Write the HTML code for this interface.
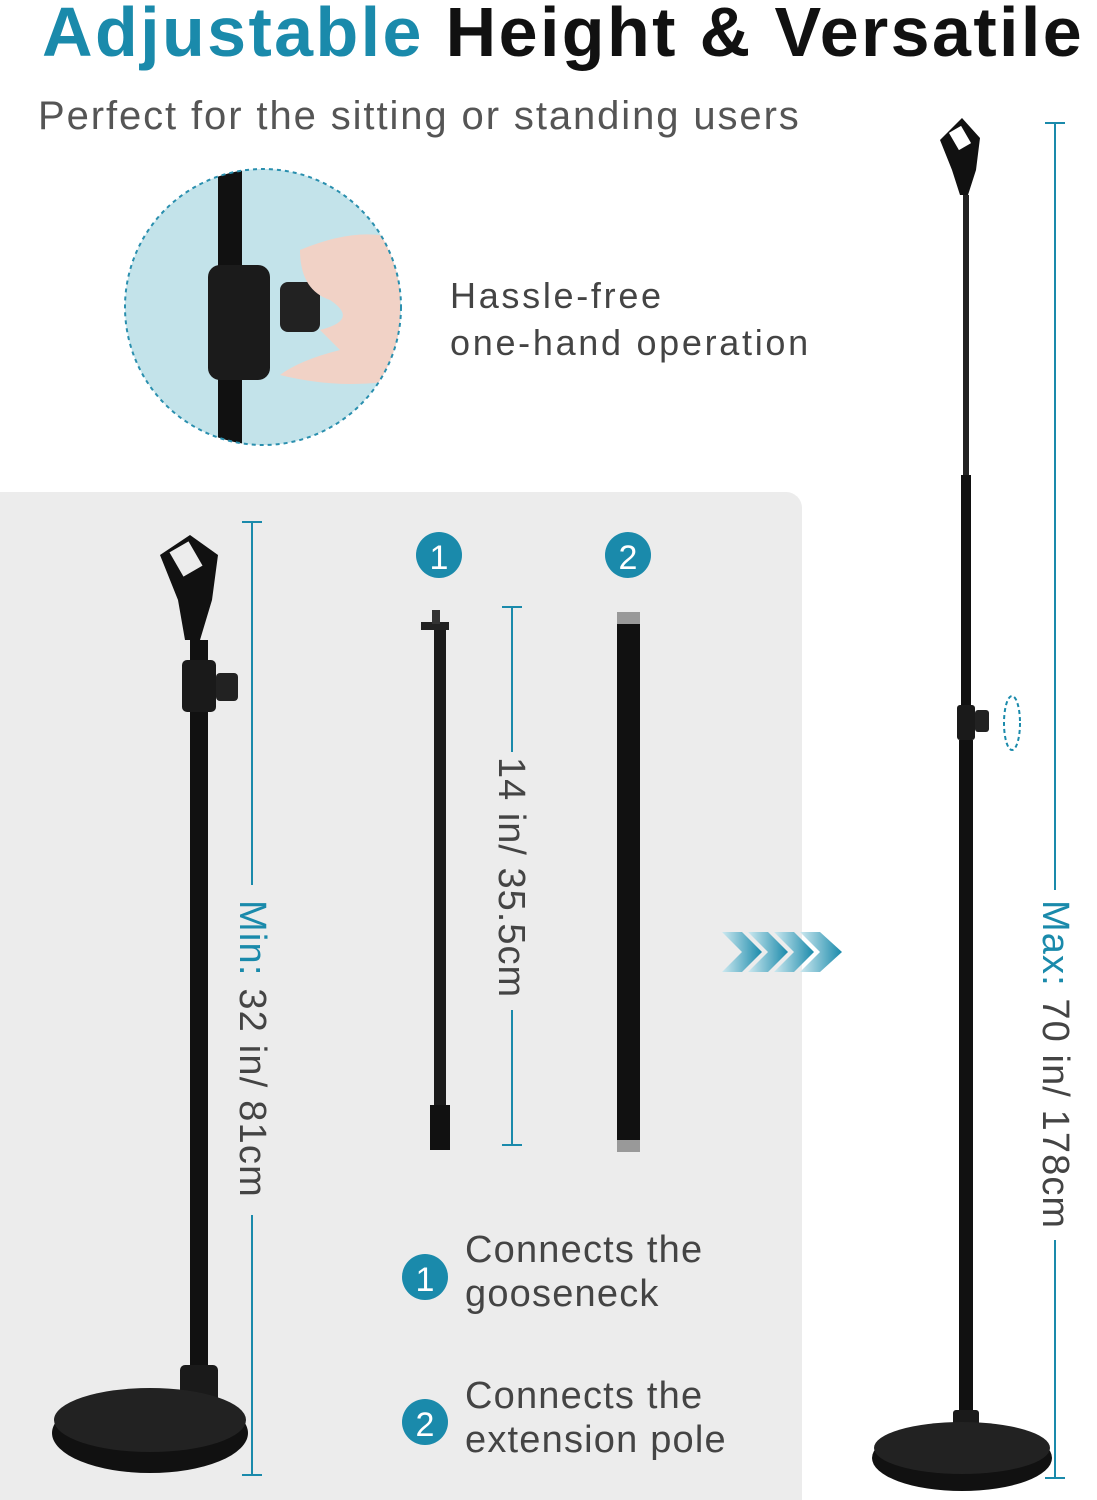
<!DOCTYPE html>
<html><head><meta charset="utf-8"><style>
body{margin:0;width:1097px;height:1500px;background:#fff;position:relative;overflow:hidden;font-family:"Liberation Sans",sans-serif}
.t{position:absolute;white-space:nowrap}
</style></head><body>
<div class="t" style="left:42px;top:-8px;font-size:70px;font-weight:bold;letter-spacing:2.4px;color:#111"><span style="color:#1a8aab">Adjustable</span> Height &amp; Versatile</div>
<div class="t" style="left:38px;top:94px;font-size:40px;color:#555;letter-spacing:1.9px">Perfect for the sitting or standing users</div>
<div class="t" style="left:450px;top:272px;font-size:36px;color:#444;line-height:47px;letter-spacing:2.7px">Hassle-free<br>one-hand operation</div>
<div style="position:absolute;left:0;top:492px;width:802px;height:1008px;background:#ececec;border-radius:0 16px 0 0"></div>
<svg width="1097" height="1500" style="position:absolute;left:0;top:0">
<defs><clipPath id="c"><circle cx="263" cy="307" r="138"/></clipPath>
<linearGradient id="g" x1="0" x2="1"><stop offset="0" stop-color="#cde9f0"/><stop offset="1" stop-color="#1a8aab"/></linearGradient></defs>
<circle cx="263" cy="307" r="138" fill="#c3e3ea"/>
<g clip-path="url(#c)">
<rect x="218" y="160" width="24" height="300" fill="#111"/>
<rect x="208" y="265" width="62" height="115" rx="12" fill="#1b1b1b"/>
<rect x="280" y="282" width="40" height="50" rx="8" fill="#222"/>
<path d="M300 250 Q360 225 400 240 L400 380 Q340 390 280 375 Q300 360 340 350 L320 330 Q360 320 330 300 Q300 290 300 250Z" fill="#f1d2c6"/>
</g>
<circle cx="263" cy="307" r="138" fill="none" stroke="#2a8fae" stroke-width="2" stroke-dasharray="4 4"/>
<rect x="190" y="640" width="18" height="740" fill="#111"/>
<rect x="182" y="660" width="34" height="52" rx="5" fill="#1a1a1a"/>
<rect x="216" y="673" width="22" height="28" rx="4" fill="#222"/>
<path d="M160 555 L190 535 L218 555 L212 600 L200 640 L185 640 L178 600Z" fill="#111"/>
<rect x="175" y="545" width="22" height="28" fill="#ececec" transform="rotate(-30 186 559)"/>
<rect x="180" y="1365" width="38" height="40" rx="5" fill="#1a1a1a"/>
<ellipse cx="150" cy="1433" rx="98" ry="40" fill="#111"/>
<ellipse cx="150" cy="1420" rx="96" ry="32" fill="#222"/>
<g stroke="#1a8aab" stroke-width="2"><line x1="252" y1="522" x2="252" y2="885"/><line x1="252" y1="1215" x2="252" y2="1475"/><line x1="242" y1="522" x2="262" y2="522"/><line x1="242" y1="1475" x2="262" y2="1475"/>
<line x1="512" y1="607" x2="512" y2="752"/><line x1="512" y1="1010" x2="512" y2="1145"/><line x1="502" y1="607" x2="522" y2="607"/><line x1="502" y1="1145" x2="522" y2="1145"/>
<line x1="1055" y1="123" x2="1055" y2="890"/><line x1="1055" y1="1240" x2="1055" y2="1478"/><line x1="1045" y1="123" x2="1065" y2="123"/><line x1="1045" y1="1478" x2="1065" y2="1478"/></g>
<text transform="translate(240,900) rotate(90)" font-size="38" fill="#444" letter-spacing="1.2"><tspan fill="#1a8aab">Min:</tspan> 32 in/ 81cm</text>
<text transform="translate(499,757) rotate(90)" font-size="38" fill="#444" letter-spacing="1">14 in/ 35.5cm</text>
<text transform="translate(1043,900) rotate(90)" font-size="38" fill="#444" letter-spacing="1.1"><tspan fill="#1a8aab">Max:</tspan> 70 in/ 178cm</text>
<rect x="421" y="622" width="28" height="8" fill="#222"/><rect x="432" y="610" width="8" height="14" fill="#333"/>
<rect x="434" y="630" width="12" height="480" fill="#1a1a1a"/><rect x="430" y="1105" width="20" height="45" fill="#111"/>
<rect x="617" y="612" width="23" height="540" rx="3" fill="#111"/>
<rect x="617" y="612" width="23" height="12" fill="#999"/><rect x="617" y="1140" width="23" height="12" fill="#999"/>
<circle cx="439" cy="555" r="23" fill="#1a8aab"/><text x="439" y="569" font-size="34" fill="#fff" text-anchor="middle">1</text>
<circle cx="628" cy="555" r="23" fill="#1a8aab"/><text x="628" y="569" font-size="34" fill="#fff" text-anchor="middle">2</text>
<circle cx="425" cy="1277" r="23" fill="#1a8aab"/><text x="425" y="1291" font-size="34" fill="#fff" text-anchor="middle">1</text>
<circle cx="425" cy="1422" r="23" fill="#1a8aab"/><text x="425" y="1436" font-size="34" fill="#fff" text-anchor="middle">2</text>
<g fill="url(#g)"><path d="M722 932 L742 932 L762 952 L742 972 L722 972 L742 952Z"/><path d="M748 932 L768 932 L788 952 L768 972 L748 972 L768 952Z"/><path d="M774 932 L794 932 L814 952 L794 972 L774 972 L794 952Z"/><path d="M800 932 L820 932 L842 952 L820 972 L800 972 L820 952Z"/></g>
<path d="M940 140 L962 118 L980 138 L976 170 L968 195 L960 195 L952 170Z" fill="#111"/>
<rect x="953" y="128" width="14" height="20" fill="#fff" transform="rotate(-30 960 138)"/>
<rect x="963" y="195" width="6" height="280" fill="#222"/>
<rect x="961" y="475" width="10" height="230" fill="#111"/>
<rect x="957" y="705" width="18" height="35" rx="3" fill="#1a1a1a"/><rect x="975" y="710" width="14" height="22" rx="3" fill="#222"/>
<rect x="959" y="740" width="14" height="680" fill="#111"/>
<rect x="953" y="1410" width="26" height="28" rx="3" fill="#1a1a1a"/>
<ellipse cx="962" cy="1458" rx="90" ry="33" fill="#111"/><ellipse cx="962" cy="1448" rx="88" ry="26" fill="#222"/>
<ellipse cx="1012" cy="723" rx="8" ry="27" fill="none" stroke="#1a8aab" stroke-width="2" stroke-dasharray="4 3"/>
</svg>
<div class="t" style="left:465px;top:1228px;font-size:38px;color:#444;line-height:44px;letter-spacing:1.2px">Connects the<br>gooseneck</div>
<div class="t" style="left:465px;top:1374px;font-size:38px;color:#444;line-height:44px;letter-spacing:1.2px">Connects the<br>extension pole</div>
</body></html>
